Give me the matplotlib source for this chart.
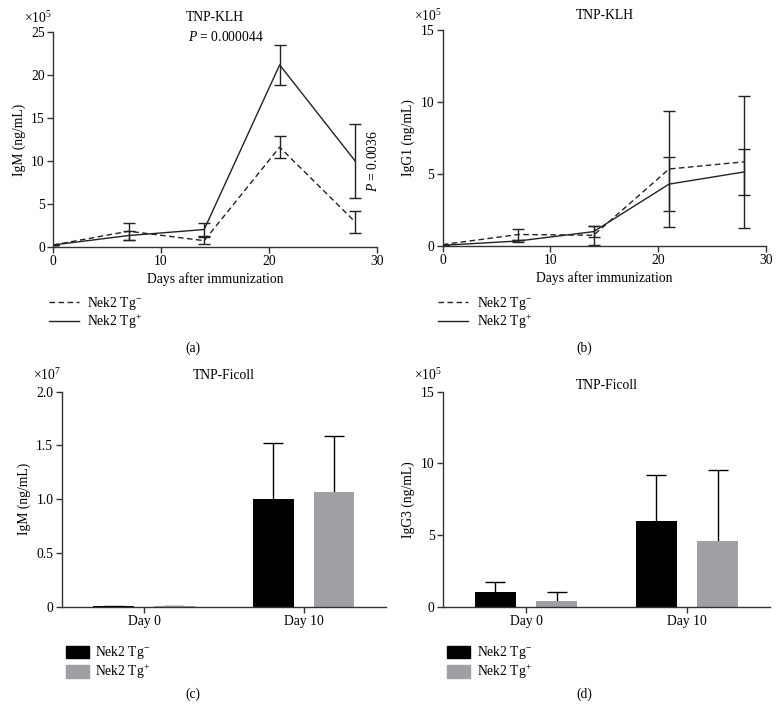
import numpy as np
import matplotlib
matplotlib.use('Agg')
import matplotlib.pyplot as plt
from matplotlib.lines import Line2D
from matplotlib.patches import Patch

plt.rcParams['font.family'] = ['Liberation Serif', 'DejaVu Serif']
plt.rcParams['mathtext.fontset'] = 'custom'
plt.rcParams['mathtext.rm'] = 'Liberation Serif'
plt.rcParams['mathtext.it'] = 'Liberation Serif:italic'

FS = 9.8
AX_COLOR = '#333333'
GRAY = '#a0a0a4'

# (a) IgM after TNP-KLH, x10^5
days = [0, 7, 14, 21, 28]
igm_neg = [0.2, 1.8, 0.7, 11.6, 2.9]
igm_neg_err = [0.0, 1.0, 0.4, 1.25, 1.3]
igm_pos = [0.2, 1.3, 2.0, 21.2, 10.0]
igm_pos_err = [0.0, 0.5, 0.8, 2.35, 4.35]

# (b) IgG1 after TNP-KLH, x10^5
igg1_neg = [0.1, 0.8, 0.75, 5.35, 5.85]
igg1_neg_err = [0.0, 0.38, 0.65, 4.05, 4.6]
igg1_pos = [0.05, 0.35, 1.0, 4.3, 5.15]
igg1_pos_err = [0.0, 0.1, 0.4, 1.86, 1.6]

# (c) IgM after TNP-Ficoll, x10^7
groups = ['Day 0', 'Day 10']
ficoll_igm_neg = [0.003, 1.005]
ficoll_igm_neg_err = [0.0, 0.515]
ficoll_igm_pos = [0.003, 1.065]
ficoll_igm_pos_err = [0.0, 0.525]

# (d) IgG3 after TNP-Ficoll, x10^5
ficoll_igg3_neg = [1.0, 5.95]
ficoll_igg3_neg_err = [0.75, 3.25]
ficoll_igg3_pos = [0.37, 4.56]
ficoll_igg3_pos_err = [0.68, 4.97]

neg_label = 'Nek2 Tg$^{-}$'
pos_label = 'Nek2 Tg$^{+}$'

fig = plt.figure(figsize=(7.8, 7.08), dpi=100)

def style(ax):
    for s in ['top', 'right']:
        ax.spines[s].set_visible(False)
    for s in ['left', 'bottom']:
        ax.spines[s].set_color(AX_COLOR)
        ax.spines[s].set_linewidth(1.0)
    ax.tick_params(direction='out', length=4, width=1.0, color=AX_COLOR,
                   labelsize=FS, pad=2)

def line_panel(ax, neg, neg_err, pos, pos_err, ylabel, ymax, yticks):
    ax.errorbar(days, neg, yerr=neg_err, color='#222222', ls=(0, (4, 2.5)), lw=1.0,
                capsize=4.5, elinewidth=1.0, capthick=1.0)
    ax.errorbar(days, pos, yerr=pos_err, color='#222222', ls='-', lw=1.0,
                capsize=4.5, elinewidth=1.0, capthick=1.0)
    ax.set_xlim(0, 30)
    ax.set_ylim(0, ymax)
    ax.set_xticks([0, 10, 20, 30])
    ax.set_yticks(yticks)
    ax.set_xlabel('Days after immunization', fontsize=FS, labelpad=3)
    ax.set_ylabel(ylabel, fontsize=FS, labelpad=4)
    style(ax)
    ax.text(-0.09, 1.03, '×10$^5$', transform=ax.transAxes, fontsize=FS,
            ha='left', va='bottom')
    ax.set_title('TNP-KLH', fontsize=FS, pad=8)
    handles = [Line2D([], [], color='#222222', ls=(0, (4, 2.5)), lw=1.0),
               Line2D([], [], color='#222222', ls='-', lw=1.0)]
    ax.legend(handles, [neg_label, pos_label], loc='upper left',
              bbox_to_anchor=(-0.03, -0.2), frameon=False, fontsize=FS,
              handlelength=2.2, handletextpad=0.6, labelspacing=0.05,
              borderaxespad=0)

def bar_panel(ax, neg, neg_err, pos, pos_err, ylabel, ymax, yticks, yticklabels, mult, tpad):
    x = np.arange(len(groups))
    w = 0.255
    off = 0.19
    ax.bar(x - off, neg, w, color='black', zorder=2)
    ax.bar(x + off, pos, w, color=GRAY, zorder=2)
    for xs, vals, errs in [(x - off, neg, neg_err), (x + off, pos, pos_err)]:
        _, caps, _ = ax.errorbar(xs, vals, yerr=[np.zeros(len(vals)), errs], fmt='none',
                                 ecolor='black', elinewidth=1.0, capsize=7.5,
                                 capthick=1.0, zorder=1)
        caps[0].set_visible(False)
    ax.set_xlim(-0.515, 1.515)
    ax.set_ylim(0, ymax)
    ax.set_xticks(x)
    ax.set_xticklabels(groups)
    ax.set_yticks(yticks)
    ax.set_yticklabels(yticklabels)
    ax.set_ylabel(ylabel, fontsize=FS, labelpad=4)
    style(ax)
    ax.text(-0.09, 1.04, '×10$^{%d}$' % mult, transform=ax.transAxes, fontsize=FS,
            ha='left', va='bottom')
    ax.set_title('TNP-Ficoll', fontsize=FS, pad=tpad)
    handles = [Patch(color='black'), Patch(color=GRAY)]
    ax.legend(handles, [neg_label, pos_label], loc='upper left',
              bbox_to_anchor=(-0.005, -0.15), frameon=False, fontsize=FS,
              handlelength=1.7, handleheight=1.0, handletextpad=0.5,
              labelspacing=0.12, borderaxespad=0)

# (a)
ax_a = fig.add_axes([0.0683, 0.6516, 0.4146, 0.3028])
line_panel(ax_a, igm_neg, igm_neg_err, igm_pos, igm_pos_err, 'IgM (ng/mL)', 25,
           [0, 5, 10, 15, 20, 25])
ax_a.text(16, 24.45, '$P$ = 0.000044', ha='center', va='center', fontsize=FS)
ax_a.text(29.0, 10.0, '$P$ = 0.0036', ha='left', va='center', rotation=90, fontsize=FS)

# (b)
ax_b = fig.add_axes([0.5676, 0.6525, 0.4145, 0.305])
line_panel(ax_b, igg1_neg, igg1_neg_err, igg1_pos, igg1_pos_err, 'IgG1 (ng/mL)', 15,
           [0, 5, 10, 15])

# (c)
ax_c = fig.add_axes([0.0791, 0.1431, 0.4158, 0.3037])
bar_panel(ax_c, ficoll_igm_neg, ficoll_igm_neg_err, ficoll_igm_pos, ficoll_igm_pos_err,
          'IgM (ng/mL)', 2.0, [0, 0.5, 1.0, 1.5, 2.0], ['0', '0.5', '1.0', '1.5', '2.0'], 7, 9)

# (d)
ax_d = fig.add_axes([0.568, 0.1431, 0.419, 0.3037])
bar_panel(ax_d, ficoll_igg3_neg, ficoll_igg3_neg_err, ficoll_igg3_pos, ficoll_igg3_pos_err,
          'IgG3 (ng/mL)', 15, [0, 5, 10, 15], ['0', '5', '10', '15'], 5, 2)

for lbl, xx, yy in [('(a)', 193, 348), ('(b)', 584, 348), ('(c)', 193, 694), ('(d)', 584, 694)]:
    fig.text(xx / 780, 1 - yy / 708, lbl, ha='center', va='center', fontsize=FS)

fig.savefig('out.png', dpi=100)
